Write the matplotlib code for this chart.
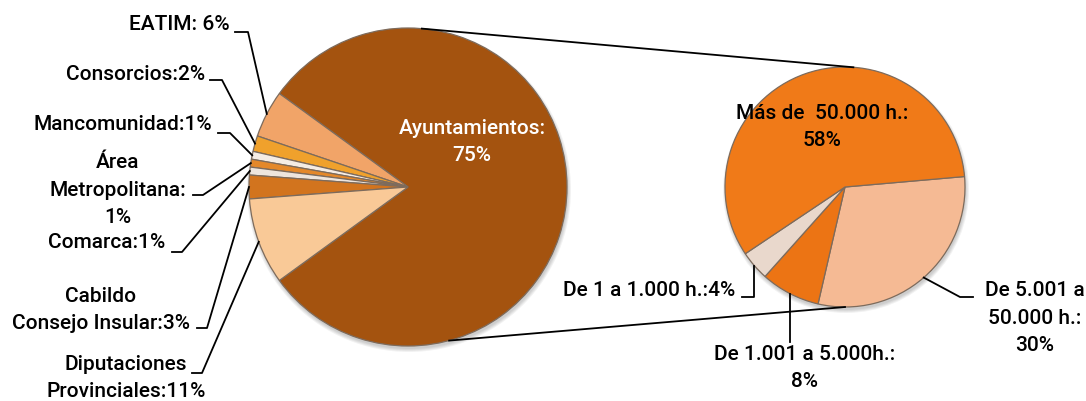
import numpy as np
import matplotlib
matplotlib.use('Agg')
import matplotlib.pyplot as plt
from matplotlib.patches import Circle

# wedge sizes as drawn (left pie) and the printed labels
left_labels = ['Ayuntamientos:\n75%', 'EATIM: 6%', 'Consorcios:2%', 'Mancomunidad:1%',
               'Área\nMetropolitana:\n1%', 'Comarca:1%', 'Cabildo\nConsejo Insular:3%',
               'Diputaciones\nProvinciales:11%']
left_sizes = [80, 4.8, 1.6, 0.8, 0.8, 0.8, 2.4, 8.8]
left_colors = ['#A4530F', '#F1A468', '#F0A12C', '#F5ECE4', '#E4882A', '#EEE5DD', '#D2741E', '#F9C997']

right_labels = ['De 5.001 a\n50.000 h.:\n30%', 'De 1.001 a 5.000h.:\n8%', 'De 1 a 1.000 h.:4%',
                'Más de  50.000 h.:\n58%']
right_sizes = [30, 8, 4, 58]
right_colors = ['#F5BA94', '#EC7414', '#E9D8CC', '#F07A18']

W, H = 1086, 401
FONT = ['Roboto', 'DejaVu Sans']
FS = 15

fig = plt.figure(figsize=(W / 100, H / 100), dpi=100)
ax = fig.add_axes([0, 0, 1, 1])

def Y(y):
	return H - y

lc, lr = (408, Y(187)), 159
rc, rr = (845, Y(187)), 120

# soft shadows
for c, r in [(lc, lr), (rc, rr)]:
	for k in range(4):
		ax.add_patch(Circle((c[0] + 1, c[1] - 3), r + 3 - k, color='black', alpha=0.05, zorder=0, lw=0))

wp = dict(edgecolor='#7d6b5c', linewidth=0.9)
lw_, _ = ax.pie(left_sizes, colors=left_colors, startangle=216, counterclock=True,
                center=lc, radius=lr, wedgeprops=wp)
rw_, _ = ax.pie(right_sizes, colors=right_colors, startangle=5, counterclock=False,
                center=rc, radius=rr, wedgeprops=wp)

def rim(w, c, r):
	a = np.deg2rad((w.theta1 + w.theta2) / 2)
	return c[0] + r * np.cos(a), c[1] + r * np.sin(a)

def txt(x, y, s, ha='center', color='black'):
	ax.text(x, Y(y), s, ha=ha, va='center', fontsize=FS, family=FONT, color=color,
	        fontweight='medium', linespacing=1.55, multialignment='center', zorder=5)

# connector lines between the two pies
for a1, a2 in [(85, 86), (-75, -90)]:
	p1 = (lc[0] + lr * np.cos(np.deg2rad(a1)), lc[1] + lr * np.sin(np.deg2rad(a1)))
	p2 = (rc[0] + rr * np.cos(np.deg2rad(a2)), rc[1] + rr * np.sin(np.deg2rad(a2)))
	ax.plot([p1[0], p2[0]], [p1[1], p2[1]], color='black', lw=1.3, zorder=4)

# left pie labels
txt(472, 142, left_labels[0], color='white')
left_layout = [(230, 25, 'right', 235, 248, 32),
               (205, 75, 'right', 210, 222, 80),
               (212, 125, 'right', 218, 230, 133),
               (118, 190, 'center', 193, 203, 195),
               (165, 243, 'right', 172, 182, 252),
               (101, 310, 'center', 197, 207, 328),
               (126, 378, 'center', 192, 202, 373)]
for i, (tx, ty, ha, x0, x1, sy) in enumerate(left_layout):
	txt(tx, ty, left_labels[i + 1], ha=ha)
	px, py = rim(lw_[i + 1], lc, lr)
	ax.plot([x0, x1, px], [Y(sy), Y(sy), py], color='black', lw=1.3, zorder=4)

# right pie labels
txt(822, 127, right_labels[3])
txt(1035, 318, right_labels[0])
px, py = rim(rw_[0], rc, rr)
ax.plot([px, 960, 973], [py, Y(297), Y(297)], color='black', lw=1.3, zorder=4)
txt(805, 368, right_labels[1])
px, py = rim(rw_[1], rc, rr)
ax.plot([px, px], [py, Y(342)], color='black', lw=1.3, zorder=4)
txt(735, 291, right_labels[2], ha='right')
px, py = rim(rw_[2], rc, rr)
ax.plot([px, px, 742], [py, Y(297), Y(297)], color='black', lw=1.3, zorder=4)

ax.set_xlim(0, W)
ax.set_ylim(0, H)
ax.set_aspect('equal')
ax.axis('off')
fig.savefig('out.png', dpi=100)
